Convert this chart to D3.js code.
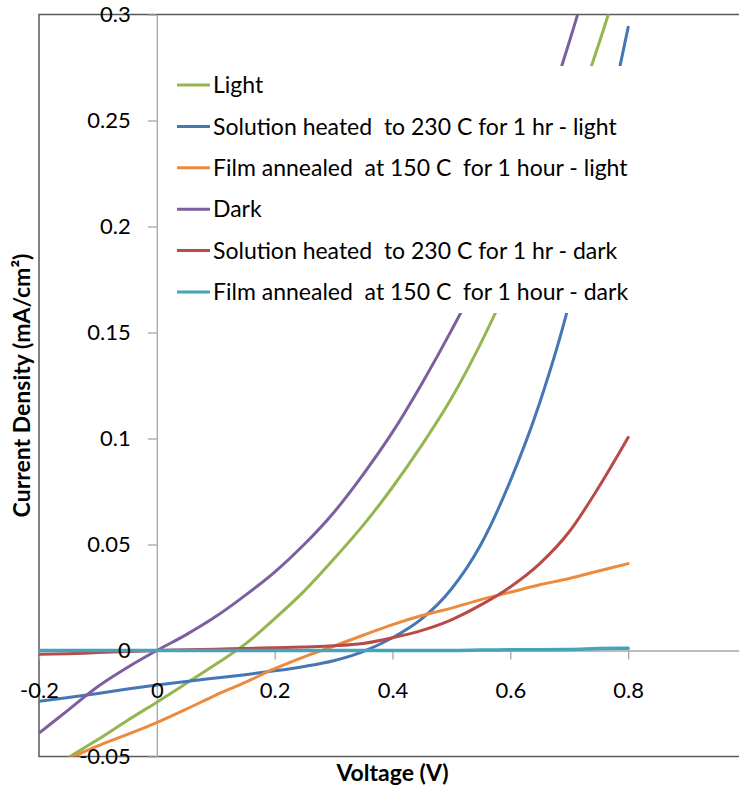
<!DOCTYPE html>
<html>
<head>
<meta charset="utf-8">
<script src="https://cdn.jsdelivr.net/npm/d3@7"></script>
<style>
  body { margin: 0; background: #fff; }
  text { font-family: Lato, "Open Sans", sans-serif; fill: #000; }
</style>
</head>
<body>
<svg id="chart" width="739" height="793"></svg>
<script>
// Voltage samples (V)
const voltage = [-0.2, -0.15, -0.1, -0.05, 0, 0.05, 0.1, 0.15, 0.2, 0.25, 0.3,
                 0.35, 0.4, 0.45, 0.5, 0.55, 0.6, 0.65, 0.7, 0.75, 0.8];

// Current density (mA/cm2)
const light =       [-0.060, -0.0505, -0.042, -0.033, -0.0244, -0.0155, -0.0065, 0.003, 0.015, 0.028, 0.043,
                     0.059, 0.077, 0.097, 0.119, 0.145, 0.175, 0.21, 0.246, 0.286, 0.33];
const solLight =    [-0.024, -0.0222, -0.0203, -0.0182, -0.0163, -0.0146, -0.013, -0.0114, -0.0096, -0.0075, -0.0048,
                     -0.0005, 0.006, 0.015, 0.029, 0.050, 0.080, 0.117, 0.164, 0.228, 0.294];
const filmLight =   [-0.057, -0.051, -0.045, -0.0396, -0.034, -0.0277, -0.021, -0.015, -0.0086, -0.003, 0.002,
                     0.0072, 0.0122, 0.0165, 0.020, 0.024, 0.0275, 0.031, 0.034, 0.0375, 0.041];
const dark =        [-0.039, -0.028, -0.017, -0.008, 0, 0.0075, 0.016, 0.026, 0.037, 0.050, 0.065,
                     0.083, 0.103, 0.126, 0.151, 0.178, 0.21, 0.245, 0.287, 0.335, 0.39];
const solDark =     [-0.0018, -0.0015, -0.001, -0.0005, 0, 0.0003, 0.0006, 0.001, 0.0013, 0.0017, 0.0022,
                     0.0033, 0.006, 0.0095, 0.0145, 0.0215, 0.030, 0.041, 0.056, 0.077, 0.1005];
const filmDark =    [0, 0, 0, 0, 0, 0, 0, 0, 0, 0, 0,
                     0, 0, 0, 0, 0.0002, 0.0004, 0.0004, 0.0005, 0.0009, 0.0011];

const seriesNames = ["Light",
                     "Solution heated  to 230 C for 1 hr - light",
                     "Film annealed  at 150 C  for 1 hour - light",
                     "Dark",
                     "Solution heated  to 230 C for 1 hr - dark",
                     "Film annealed  at 150 C  for 1 hour - dark"];
const seriesColors = ["#93b64f", "#4477b4", "#ec8a3d", "#7d5fa0", "#b84a47", "#45a3bb"];
const seriesValues = [light, solLight, filmLight, dark, solDark, filmDark];

const xTicks = [-0.2, 0, 0.2, 0.4, 0.6, 0.8];
const yTicks = [-0.05, 0, 0.05, 0.1, 0.15, 0.2, 0.25, 0.3];

const svg = d3.select("#chart");

// plot area
const plotLeft = 39, plotRight = 746, plotTop = 14.5, plotBottom = 756.5;

const x = d3.scaleLinear().domain([-0.2, 1.0]).range([plotLeft, plotRight]);
const y = d3.scaleLinear().domain([-0.05, 0.3]).range([plotBottom, plotTop]);

svg.append("defs").append("clipPath").attr("id", "plotClip")
  .append("rect").attr("x", plotLeft).attr("y", plotTop)
  .attr("width", plotRight - plotLeft).attr("height", plotBottom - plotTop);

// frame
svg.append("rect")
  .attr("x", plotLeft).attr("y", plotTop)
  .attr("width", plotRight - plotLeft).attr("height", plotBottom - plotTop)
  .attr("fill", "none").attr("stroke", "#595959").attr("stroke-width", 1.5);

// axis lines + tick marks (under the series)
const xAxisLines = svg.append("g")
  .attr("transform", `translate(0,${y(0)})`)
  .call(d3.axisBottom(x).tickValues(xTicks).tickSize(9).tickSizeOuter(0).tickFormat(""));
const yAxisLines = svg.append("g")
  .attr("transform", `translate(${x(0)},0)`)
  .call(d3.axisLeft(y).tickValues(yTicks).tickSize(9).tickSizeOuter(0).tickFormat(""));
[xAxisLines, yAxisLines].forEach(g => {
  g.select(".domain").attr("stroke", "#a6a6a6").attr("stroke-width", 1.3);
  g.selectAll(".tick line").attr("stroke", "#a6a6a6").attr("stroke-width", 1.3);
});

// series
const line = d3.line()
  .x((d, i) => x(voltage[i]))
  .y(d => y(d))
  .curve(d3.curveMonotoneX);

const plot = svg.append("g").attr("clip-path", "url(#plotClip)");
seriesValues.forEach((vals, i) => {
  plot.append("path")
    .datum(vals)
    .attr("fill", "none")
    .attr("stroke", seriesColors[i])
    .attr("stroke-width", i === 5 ? 3.5 : 3)
    .attr("stroke-linejoin", "round")
    .attr("stroke-linecap", "round")
    .attr("d", line);
});

// tick labels (on top of the series)
const fmt = d => String(+d.toFixed(2));
const xLabels = svg.append("g")
  .attr("transform", `translate(0,${y(0)})`)
  .call(d3.axisBottom(x).tickValues(xTicks).tickSize(9).tickPadding(23).tickFormat(fmt));
const yLabels = svg.append("g")
  .attr("transform", `translate(${x(0)},0)`)
  .call(d3.axisLeft(y).tickValues(yTicks).tickSize(9).tickPadding(17).tickFormat(fmt));
[xLabels, yLabels].forEach(g => {
  g.select(".domain").remove();
  g.selectAll(".tick line").remove();
  g.selectAll(".tick text").attr("font-size", 22).attr("font-family", "Lato, sans-serif").attr("fill", "#000");
});

// legend
const legend = svg.append("g");
legend.append("rect")
  .attr("x", 165).attr("y", 66).attr("width", 480).attr("height", 247)
  .attr("fill", "#fff");
const rowY = d3.scaleLinear().domain([0, 5]).range([85, 292]);
seriesNames.forEach((name, i) => {
  legend.append("line")
    .attr("x1", 177).attr("x2", 210)
    .attr("y1", rowY(i)).attr("y2", rowY(i))
    .attr("stroke", seriesColors[i]).attr("stroke-width", 3);
  legend.append("text")
    .attr("x", 213).attr("y", rowY(i)).attr("dy", "0.36em")
    .attr("font-size", 23)
    .style("white-space", "pre")
    .text(name);
});

// axis titles
svg.append("text")
  .attr("x", (plotLeft + plotRight) / 2).attr("y", 781)
  .attr("text-anchor", "middle")
  .attr("font-size", 23).attr("font-weight", "bold")
  .text("Voltage (V)");
svg.append("text")
  .attr("transform", `translate(22,${(plotTop + plotBottom) / 2}) rotate(-90)`)
  .attr("text-anchor", "middle").attr("dy", "0.36em")
  .attr("font-size", 23).attr("font-weight", "bold")
  .text("Current Density (mA/cm²)");
</script>
</body>
</html>
